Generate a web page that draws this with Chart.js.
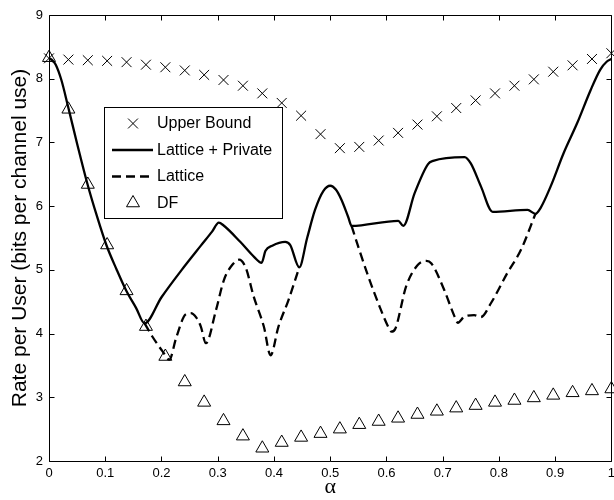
<!DOCTYPE html>
<html>
<head>
<meta charset="utf-8">
<title>Rate per User</title>
<script src="https://cdn.jsdelivr.net/npm/chart.js@4.4.1/dist/chart.umd.min.js"></script>
<style>
html, body { margin: 0; padding: 0; background: #fff; overflow: hidden; }
#wrap { position: relative; width: 620px; height: 500px; }
</style>
</head>
<body>
<div id="wrap"><canvas id="rate-chart"></canvas></div>
<script>
// marker grid (30 points over alpha)
var alphaGrid = [0, 0.0345, 0.069, 0.1034, 0.1379, 0.1724, 0.2069, 0.2414, 0.2759, 0.3103,
                 0.3448, 0.3793, 0.4138, 0.4483, 0.4828, 0.5172, 0.5517, 0.5862, 0.6207, 0.6552,
                 0.6897, 0.7241, 0.7586, 0.7931, 0.8276, 0.8621, 0.8966, 0.931, 0.9655, 1];
var upperBound = [8.32, 8.30, 8.29, 8.28, 8.26, 8.22, 8.18, 8.13, 8.06, 7.98,
                  7.89, 7.77, 7.62, 7.42, 7.13, 6.91, 6.93, 7.03, 7.15, 7.28,
                  7.41, 7.54, 7.66, 7.77, 7.89, 7.99, 8.11, 8.21, 8.31, 8.40];
var dfRate = [8.33, 7.52, 6.34, 5.39, 4.67, 4.11, 3.64, 3.24, 2.92, 2.63,
              2.39, 2.20, 2.29, 2.37, 2.43, 2.50, 2.57, 2.62, 2.67, 2.73,
              2.78, 2.83, 2.87, 2.92, 2.95, 2.99, 3.03, 3.07, 3.10, 3.13];

// Lattice + Private (solid)
var privAlpha = [0, 0.006, 0.012, 0.022, 0.034, 0.05, 0.068, 0.085, 0.102, 0.12,
                 0.137, 0.155, 0.170, 0.20, 0.236, 0.27, 0.29, 0.302, 0.31, 0.34,
                 0.365, 0.378, 0.385, 0.397, 0.420, 0.429, 0.445, 0.459, 0.473, 0.488,
                 0.500, 0.51, 0.52, 0.532, 0.538, 0.621, 0.630, 0.65, 0.674, 0.683,
                 0.739, 0.750, 0.768, 0.789, 0.851, 0.865, 0.874, 0.892, 0.915, 0.939,
                 0.963, 0.980, 0.992, 1.0];
var privRate = [8.32, 8.29, 8.22, 7.98, 7.56, 6.98, 6.36, 5.85, 5.39, 5.01,
                4.68, 4.40, 4.16, 4.57, 5.0, 5.38, 5.6, 5.74, 5.70, 5.44,
                5.20, 5.11, 5.30, 5.38, 5.44, 5.39, 5.04, 5.50, 5.94, 6.24,
                6.32, 6.26, 6.10, 5.83, 5.69, 5.77, 5.69, 6.20, 6.66, 6.71,
                6.77, 6.67, 6.31, 5.91, 5.94, 5.88, 5.97, 6.31, 6.83, 7.30,
                7.82, 8.14, 8.27, 8.31];

// Lattice (dashed) where it leaves the solid curve
var latAlpha = [0.170, 0.184, 0.202, 0.214, 0.226, 0.243, 0.252, 0.262, 0.270, 0.279,
                0.297, 0.311, 0.326, 0.338, 0.350, 0.364, 0.382, 0.394, 0.408, 0.426,
                0.445, 0.49,
                0.538, 0.550, 0.568, 0.588, 0.603, 0.609, 0.616, 0.635, 0.656, 0.671,
                0.680, 0.703, 0.721, 0.727, 0.739, 0.756, 0.768, 0.786, 0.815, 0.839, 0.865];
var latRate = [4.16, 3.95, 3.72, 3.59, 3.93, 4.30, 4.32, 4.25, 4.11, 3.85,
               4.37, 4.84, 5.08, 5.16, 5.03, 4.58, 4.11, 3.66, 4.11, 4.53,
               5.04, null,
               5.69, 5.36, 4.89, 4.42, 4.11, 4.03, 4.08, 4.74, 5.08, 5.14,
               5.10, 4.68, 4.27, 4.17, 4.27, 4.29, 4.26, 4.48, 4.95, 5.31, 5.88];

var xTickLabels = ['0', '0.1', '0.2', '0.3', '0.4', '0.5', '0.6', '0.7', '0.8', '0.9', '1'];
var yTickLabels = ['2', '3', '4', '5', '6', '7', '8', '9'];
var seriesNames = ['Upper Bound', 'Lattice + Private', 'Lattice', 'DF'];

function pairs(xs, ys) {
	return xs.map(function(x, i) { return {x: x, y: ys[i]}; });
}

var FONT = "'Liberation Sans', Arial, Helvetica, sans-serif";

// box round the plot with inward ticks on all four sides
var boxPlugin = {
	id: 'matlabBox',
	beforeDatasetsDraw: function(chart) {
		var ctx = chart.ctx, a = chart.chartArea;
		var xs = chart.scales.x, ys = chart.scales.y;
		var L = Math.round(a.left) + 0.5, R = Math.round(a.right) + 0.5;
		var T = Math.round(a.top) + 0.5, B = Math.round(a.bottom) + 0.5;
		ctx.save();
		ctx.strokeStyle = '#000';
		ctx.lineWidth = 1;
		ctx.beginPath();
		ctx.rect(L, T, R - L, B - T);
		xs.ticks.forEach(function(t) {
			var px = Math.round(xs.getPixelForValue(t.value)) + 0.5;
			ctx.moveTo(px, B); ctx.lineTo(px, B - 5);
			ctx.moveTo(px, T); ctx.lineTo(px, T + 5);
		});
		ys.ticks.forEach(function(t) {
			var py = Math.round(ys.getPixelForValue(t.value)) + 0.5;
			ctx.moveTo(L, py); ctx.lineTo(L + 5, py);
			ctx.moveTo(R, py); ctx.lineTo(R - 5, py);
		});
		ctx.stroke();
		ctx.restore();
	}
};

// legend drawn inside the plot, in a framed box
var legendPlugin = {
	id: 'innerLegend',
	afterDatasetsDraw: function(chart) {
		var ctx = chart.ctx;
		var bx = 104.5, by = 107.5, bw = 178, bh = 111;
		var rowY = [123.5, 150, 176.5, 203];
		ctx.save();
		ctx.fillStyle = '#fff';
		ctx.strokeStyle = '#000';
		ctx.lineWidth = 1;
		ctx.fillRect(bx, by, bw, bh);
		ctx.strokeRect(bx, by, bw, bh);

		chart.data.datasets.forEach(function(ds, i) {
			var y = rowY[i];
			var cx = 133;
			ctx.strokeStyle = '#000';
			if (ds.showLine) {
				ctx.lineWidth = ds.borderWidth;
				ctx.setLineDash(ds.borderDash || []);
				ctx.beginPath();
				ctx.moveTo(112, y);
				ctx.lineTo(153, y);
				ctx.stroke();
				ctx.setLineDash([]);
			} else {
				ctx.fillStyle = 'rgba(0,0,0,0)';
				ctx.lineWidth = 1;
				Chart.helpers.drawPoint(ctx, {
					pointStyle: ds.pointStyle,
					radius: ds.pointRadius,
					borderWidth: 1
				}, cx, y);
			}
			ctx.fillStyle = '#000';
			ctx.font = '16px ' + FONT;
			ctx.textBaseline = 'middle';
			ctx.textAlign = 'left';
			ctx.fillText(ds.label, 157, y + 0.5);
		});
		ctx.restore();
	}
};

var ctx = document.getElementById('rate-chart').getContext('2d');
var rateChart = new Chart(ctx, {
	type: 'scatter',
	data: {
		datasets: [
			{
				label: seriesNames[0],
				data: pairs(alphaGrid, upperBound),
				showLine: false,
				pointStyle: 'crossRot',
				pointRadius: 7,
				pointBorderWidth: 1,
				pointBorderColor: '#000',
				pointBackgroundColor: 'rgba(0,0,0,0)',
				clip: false
			},
			{
				label: seriesNames[1],
				data: pairs(privAlpha, privRate),
				showLine: true,
				borderColor: '#000',
				borderWidth: 2.3,
				pointRadius: 0,
				cubicInterpolationMode: 'monotone',
				clip: false
			},
			{
				label: seriesNames[2],
				data: pairs(latAlpha, latRate),
				showLine: true,
				spanGaps: false,
				borderColor: '#000',
				borderWidth: 2.3,
				borderDash: [9, 5],
				pointRadius: 0,
				cubicInterpolationMode: 'monotone',
				clip: false
			},
			{
				label: seriesNames[3],
				data: pairs(alphaGrid, dfRate),
				showLine: false,
				pointStyle: 'triangle',
				pointRadius: 7.5,
				pointBorderWidth: 1,
				pointBorderColor: '#000',
				pointBackgroundColor: 'rgba(0,0,0,0)',
				clip: false
			}
		]
	},
	options: {
		responsive: true,
		maintainAspectRatio: false,
		animation: false,
		devicePixelRatio: 1,
		layout: { padding: { left: 0, top: 15, right: 5.5, bottom: 0 } },
		plugins: {
			legend: { display: false },
			tooltip: { enabled: false }
		},
		scales: {
			x: {
				type: 'linear',
				min: 0,
				max: 1,
				afterFit: function(scale) { scale.height = 39; },
				grid: { display: false, drawTicks: false },
				border: { display: false },
				ticks: {
					stepSize: 0.1,
					padding: 5,
					maxRotation: 0,
					autoSkip: false,
					color: '#000',
					font: { family: FONT, size: 13 },
					callback: function(v, i) { return xTickLabels[i]; }
				},
				title: {
					display: true,
					text: 'α',
					color: '#000',
					font: { family: "'Liberation Serif', 'Times New Roman', serif", size: 22, lineHeight: 1 },
					padding: { top: 0, bottom: 2 }
				}
			},
			y: {
				type: 'linear',
				min: 2,
				max: 9,
				afterFit: function(scale) { scale.width = 49; },
				grid: { display: false, drawTicks: false },
				border: { display: false },
				ticks: {
					stepSize: 1,
					padding: 6,
					color: '#000',
					font: { family: FONT, size: 13 },
					callback: function(v, i) { return yTickLabels[i]; }
				},
				title: {
					display: true,
					text: 'Rate per User (bits per channel use)',
					color: '#000',
					font: { family: FONT, size: 21, lineHeight: 1.2 },
					padding: { top: 8, bottom: 0 }
				}
			}
		}
	},
	plugins: [boxPlugin, legendPlugin]
});
</script>
</body>
</html>
